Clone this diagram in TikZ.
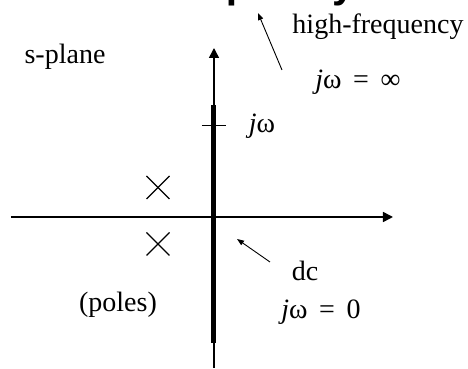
\documentclass[tikz,border=0pt]{standalone}
\usepackage{fontspec}
\setmainfont{Liberation Serif}
\newfontfamily\titlefont{Liberation Sans}
\usepackage{tikz}
\usetikzlibrary{arrows.meta,positioning}

\begin{document}
\begin{tikzpicture}[x=0.5pt, y=-0.5pt,
    axis/.style={line width=0.75pt, -{Triangle[length=5pt,width=5pt]}},
    lead/.style={line width=0.45pt, -{Triangle[length=3.5pt,width=2.6pt]}},
    lbl/.style={font=\fontsize{14}{16}\selectfont, inner sep=0pt}]
    \useasboundingbox (0,0) rectangle (468,369);
    % title, cut off at the top of the page
    \node[anchor=base, inner sep=0pt, font=\titlefont\bfseries\fontsize{20.5}{24}\selectfont] (title) at (252,-2.6) {Frequency};
    
    % axes
    \coordinate (O) at (214,217);
    \coordinate (Xl) at (11,217);
    \coordinate (Xr) at (393,217);
    \coordinate (Yt) at (214,48);
    \coordinate (Yb) at (214,368);
    \draw[axis] (Xl) -- (Xr);
    \draw[axis] (Yb) -- (Yt);
    
    % j omega axis
    \coordinate (W0) at (214,343);
    \coordinate (W1) at (214,105);
    \draw[line width=2.5pt] (W0) -- (W1);
    \coordinate (T0) at (202,126);
    \coordinate (T1) at (226,126);
    \draw[line width=0.5pt] (T0) -- (T1);
    
    % poles
    \foreach \y in {187.5, 244} {
        \draw[line width=0.6pt] (146.5,\y-11.5) -- (169.5,\y+11.5);
        \draw[line width=0.6pt] (146.5,\y+11.5) -- (169.5,\y-11.5);
    }
    
    % labels
    \node[lbl] (splane) at (65,57) {s-plane};
    \node[lbl] (hifreq) at (378,27) {high-frequency};
    \node[lbl] (winf) at (358,82) {\textit{j}ω \,=\, ∞};
    \node[lbl] (wlab) at (262,126) {\textit{j}ω};
    \node[lbl] (dc) at (305,271) {dc};
    \node[lbl] (wzero) at (321,312) {\textit{j}ω \,=\, 0};
    \node[lbl] (poles) at (118,305) {(poles)};
    
    % pointers
    \coordinate (H0) at (282,70);
    \coordinate (H1) at (258,13);
    \draw[lead] (H0) -- (H1);
    \coordinate (D0) at (270,262);
    \coordinate (D1) at (237,239);
    \draw[lead] (D0) -- (D1);
\end{tikzpicture}
\end{document}
